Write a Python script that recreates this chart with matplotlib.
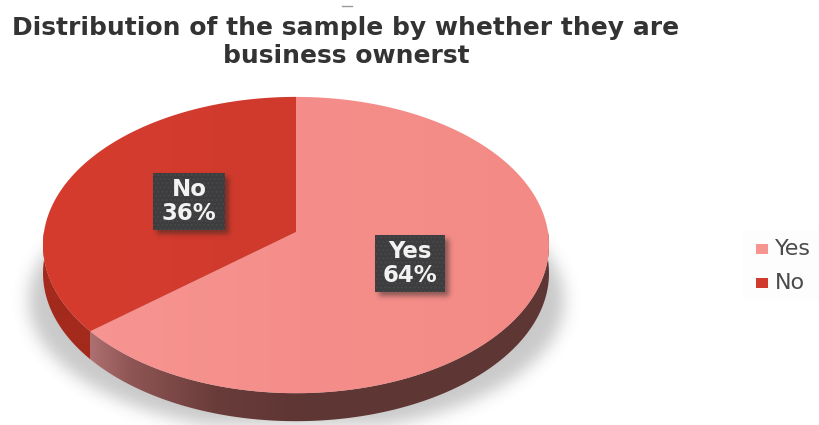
import numpy as np
import matplotlib
matplotlib.use('Agg')
import matplotlib.pyplot as plt
from matplotlib.patches import Polygon, Rectangle

W, H = 819, 425

categories = ['Yes', 'No']
shares = [64, 36]
title_lines = ['Distribution of the sample by whether they are', 'business ownerst']

# pie geometry in pixels
CX, CY = 296, 232
R_X, R_Y = 252, 147
TILT = 0.088
DEPTH = 28


def rim(a0, a1, n=200):
    # clockwise angle from 12 o'clock, tilted disc seen in perspective
    a = np.radians(np.linspace(a0, a1, n))
    w = 1 + TILT * np.cos(a)
    return np.column_stack([CX + R_X * np.sin(a) / w, CY - R_Y * np.cos(a) / w])


def blur(img, sigma):
    r = int(3 * sigma)
    k = np.exp(-0.5 * (np.arange(-r, r + 1) / sigma) ** 2)
    k /= k.sum()
    img = np.apply_along_axis(lambda v: np.convolve(v, k, mode='same'), 0, img)
    return np.apply_along_axis(lambda v: np.convolve(v, k, mode='same'), 1, img)


def hex_rgb(c):
    return np.array(matplotlib.colors.to_rgb(c))


def gradient(ax, clip, stops_x, stops_c, zorder):
    # horizontal colour ramp clipped to a polygon
    xs = np.arange(W) + 0.5
    rgb = np.column_stack([np.interp(xs, stops_x, [hex_rgb(c)[i] for c in stops_c]) for i in range(3)])
    im = ax.imshow(rgb[np.newaxis, :, :], extent=(0, W, H, 0), aspect='auto', zorder=zorder, interpolation='bilinear')
    patch = Polygon(clip, closed=True, transform=ax.transData, fc='none', ec='none')
    ax.add_patch(patch)
    im.set_clip_path(patch)


def soft_shadow(ax, mask, sigma, strength, grey, zorder):
    alpha = blur(mask.astype(float), sigma) * strength
    rgba = np.zeros((H, W, 4))
    rgba[..., :3] = grey
    rgba[..., 3] = alpha
    ax.imshow(rgba, extent=(0, W, H, 0), aspect='auto', zorder=zorder)


fig = plt.figure(figsize=(W / 100, H / 100), dpi=100)
ax = fig.add_axes([0, 0, 1, 1])
ax.set_xlim(0, W)
ax.set_ylim(H, 0)
ax.axis('off')

yy, xx = np.mgrid[0:H, 0:W]

# ground shadow under the pie
ground = ((xx - 296) / 268.0) ** 2 + ((yy - 300) / 132.0) ** 2 < 1
soft_shadow(ax, ground, 8, 0.28, 0.25, 1)

# wedge angles, clockwise from the top
split = 360 * shares[0] / sum(shares)

yes_top = np.vstack([[CX, CY], rim(0, split)])
no_top = np.vstack([[CX, CY], rim(split, 360)])

# rim of the disc, only the part facing the viewer
yes_arc = rim(90, split)
no_arc = rim(split, 270)
down = np.array([0, DEPTH])
yes_side = np.vstack([yes_arc, (yes_arc + down)[::-1]])
no_side = np.vstack([no_arc, (no_arc + down)[::-1]])

gradient(ax, yes_side, [88, 130, 215, 300, 560], ['#b07272', '#8f5655', '#693c3a', '#5f3634', '#5e3735'], 2)
gradient(ax, no_side, [40, 90], ['#a32a1c', '#a32a1c'], 2)

gradient(ax, yes_top, [80, 300, 550], ['#f79592', '#f58e8a', '#f38a85'], 3)
gradient(ax, no_top, [40, 300], ['#d53c2e', '#cf3a2c'], 3)

# data labels: dark dotted tags with a soft drop shadow
tags = [(375, 235, 70, 57), (153, 173, 72, 57)]
for cat, share, (x, y, w, h) in zip(categories, shares, tags):
    tag_mask = (xx >= x + 4) & (xx < x + w + 4) & (yy >= y + 4) & (yy < y + h + 4)
    soft_shadow(ax, tag_mask, 2.5, 0.5, 0.15, 4)
    ax.add_patch(Rectangle((x, y), w, h, fc='#3d3d3f', ec='#484849', hatch='....', lw=0, zorder=5))
    ax.text(x + w / 2, y + h / 2, f'{cat}\n{share}%', color='#f2f2f2', fontsize=16.5, fontweight='bold',
            family='DejaVu Sans', ha='center', va='center', linespacing=1.05, zorder=6)

# title, with the small stray dash above it
ax.plot([342, 352], [6, 6], color='#9a9a9a', lw=1, zorder=6)
for line, y in zip(title_lines, [28, 56]):
    ax.text(346, y, line, color='#333333', fontsize=18, fontweight='bold', family='DejaVu Sans',
            ha='center', va='center', zorder=6)

# legend
ax.add_patch(Rectangle((743, 230), 76, 70, fc='#fdfdfd', ec='none', zorder=1))
for cat, color, y in zip(categories, ['#f59490', '#d03b2d'], [249, 283]):
    ax.add_patch(Rectangle((756, y - 5), 12, 10, fc=color, ec='none', zorder=2))
    ax.text(775, y, cat, color='#4a4a4a', fontsize=16, family='DejaVu Sans', ha='left', va='center', zorder=3)

ax.set_xlim(0, W)
ax.set_ylim(H, 0)
fig.savefig('out.png', dpi=100)
plt.close(fig)
